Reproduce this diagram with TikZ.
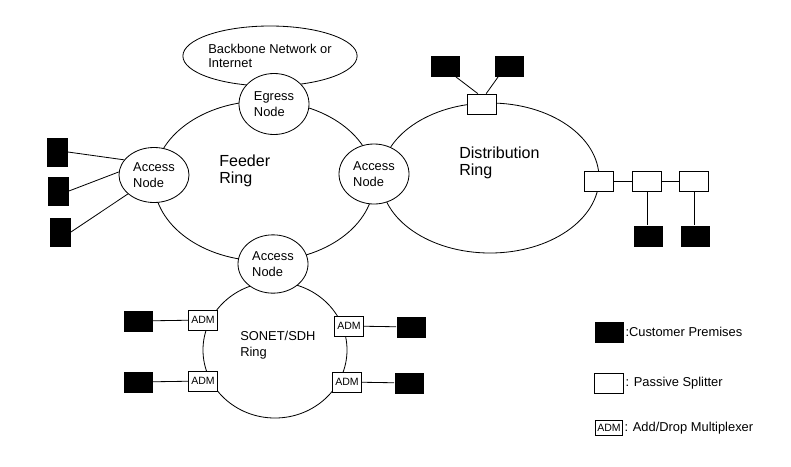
\documentclass[tikz,border=0pt]{standalone}
\usepackage{fontspec}
\setmainfont{Liberation Sans}
\usetikzlibrary{shapes.geometric, positioning}

\begin{document}
\begin{tikzpicture}[x=0.03cm, y=-0.03cm, line width=0.7pt,
    ring/.style={draw, ellipse, inner sep=0pt},
    netnode/.style={draw, ellipse, fill=white, inner sep=0pt, align=left,
      minimum width=2.1cm, minimum height=1.75cm, font=\fontsize{11}{13.6}\selectfont},
    ringlabel/.style={anchor=west, align=left, font=\fontsize{13.7}{14.5}\selectfont},
    cust/.style={fill=black, inner sep=0pt, minimum width=0.87cm, minimum height=0.63cm},
    custv/.style={cust, minimum width=0.63cm, minimum height=0.87cm},
    splitter/.style={draw, fill=white, inner sep=0pt, minimum width=0.87cm, minimum height=0.6cm},
    adm/.style={splitter, font=\fontsize{9}{10}\selectfont},
    legend/.style={anchor=west, inner sep=1pt, font=\fontsize{11}{13}\selectfont}]
    \useasboundingbox (0,0) rectangle (791,466);

    \node[ring, minimum width=6.6cm, minimum height=4.8cm] (feeder) at (264,181) {};
    \node[ring, minimum width=6.54cm, minimum height=4.5cm] (distr) at (490,178) {};
    \node[ring, minimum width=4.32cm, minimum height=4.08cm] (sonet) at (275,350) {};
    \node[ring, minimum width=4.44cm, minimum height=1.8cm, align=left,
      font=\fontsize{11}{11.5}\selectfont] (backbone) at (270,56) {Backbone Network or\\Internet};

    \node[netnode, minimum height=1.83cm] (egress) at (274,104) {Egress\\Node};
    \node[netnode, minimum height=1.65cm] (lacc) at (154,175) {Access\\Node};
    \node[netnode, minimum height=1.8cm] (racc) at (374,174) {Access\\Node};
    \node[netnode] (bacc) at (273,264) {Access\\Node};

    \node[ringlabel] (feedertxt) at (215,171) {Feeder\\Ring};
    \node[ringlabel] (distrtxt) at (455,163) {Distribution\\Ring};
    \node[ringlabel, font=\fontsize{11}{13.6}\selectfont] (sonettxt) at (236,345) {SONET/SDH\\Ring};

    \node[custv] (cl1) at (57,152) {};
    \node[custv] (cl2) at (58,191) {};
    \node[custv] (cl3) at (60,232) {};
    \draw (cl1.east) -- (lacc.153);
    \draw (cl2.east) -- (lacc.175);
    \draw (cl3.east) -- (lacc.216);

    \node[splitter] (sp1) at (482,104) {};
    \node[cust] (cd1) at (445,66) {};
    \node[cust] (cd2) at (509,66) {};
    \draw (cd1.-45) -- (sp1.112);
    \draw (cd2.-135) -- (sp1.68);

    \node[splitter] (sp2) at (599,181) {};
    \node[splitter] (sp3) at (647,181) {};
    \node[splitter] (sp4) at (694,181) {};
    \node[cust] (cd3) at (648,236) {};
    \node[cust] (cd4) at (695,236) {};
    \draw (sp2) -- (sp3) -- (sp4);
    \draw (sp3) -- (sp3 |- cd3.north);
    \draw (sp4) -- (sp4 |- cd4.north);

    \node[adm] (adm1) at (203,320) {ADM};
    \node[adm] (adm2) at (203,381) {ADM};
    \node[adm] (adm3) at (349,326) {ADM};
    \node[adm] (adm4) at (347,382) {ADM};
    \node[cust] (cs1) at (138,321) {};
    \node[cust] (cs2) at (138,382) {};
    \node[cust] (cs3) at (411,327) {};
    \node[cust] (cs4) at (409,383) {};
    \draw (cs1) -- (adm1);
    \draw (cs2) -- (adm2);
    \draw (adm3) -- (cs3);
    \draw (adm4) -- (cs4);

    \node[cust] (lg1) at (609,332) {};
    \node[legend, right=0pt of lg1] (lg1txt) {:Customer Premises};
    \node[splitter] (lg2) at (609,383) {};
    \node[legend, right=0pt of lg2] (lg2txt) {: Passive Splitter};
    \node[adm, minimum width=0.81cm, minimum height=0.45cm] (lg3) at (609,428) {ADM};
    \node[legend, right=0pt of lg3] (lg3txt) {: Add/Drop Multiplexer};
\end{tikzpicture}
\end{document}
